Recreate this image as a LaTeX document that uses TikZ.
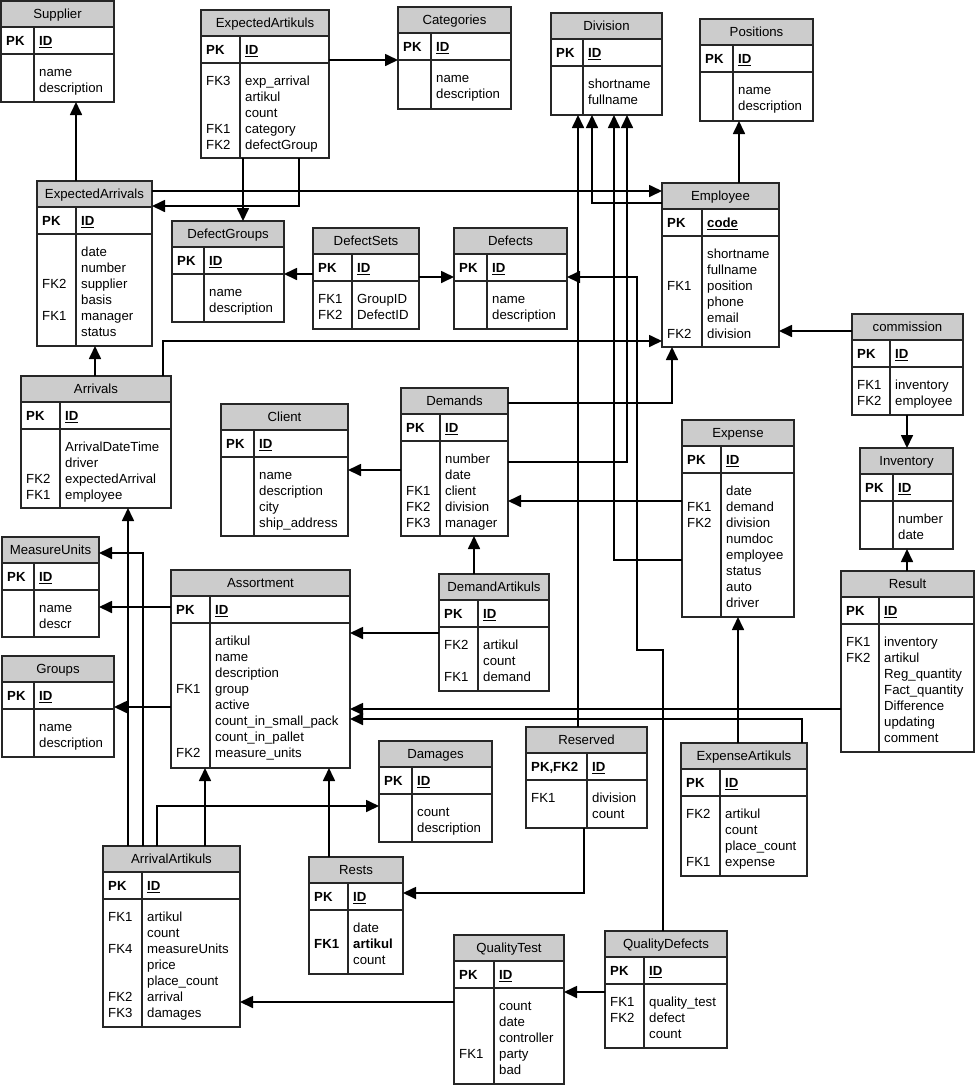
\documentclass[tikz,border=0pt]{standalone}
\usepackage{fontspec}
\setmainfont{Liberation Sans}
\usetikzlibrary{arrows.meta}

% #1 name, #2 left, #3 top, #4 width, #5 height, #6 key column, #7 title, #8 pk row, #9 rows
\newcommand{\entity}[9]{%
  \fill[hdrfill] (#2,#3) rectangle ++(#4,26);
  \node[tbl, minimum width=#4pt, minimum height=#5pt] (#1) at (#2,#3) {};
  \draw[tblline] (#2,#3+26) -- ++(#4,0) (#2,#3+53) -- ++(#4,0) (#2+#6,#3+26) -- (#2+#6,#3+#5);
  \node[anchor=base] (#1-title) at (#2+#4/2,#3+17) {#7};
  \node[cols] (#1-pk) at (#2+5,#3+33) {\begin{tabular}{@{}p{#6pt}@{}l@{}}#8\end{tabular}};
  \node[cols] (#1-rows) at (#2+5,#3+64) {\begin{tabular}{@{}p{#6pt}@{}l@{}}#9\end{tabular}};
}
\newcommand{\idkey}[1]{\textbf{\underline{#1}}}

\begin{document}
\begin{tikzpicture}[x=1pt, y=-1pt, font=\fontsize{13.2}{16}\selectfont,
    tbl/.style={draw=black!85, line width=1.1pt, inner sep=0pt, outer sep=0pt, anchor=north west},
    tblline/.style={draw=black!85, line width=1.1pt},
    hdrfill/.style={fill=black!20},
    cols/.style={anchor=north west, inner sep=0pt},
    fk/.style={line width=1.7pt, -{Triangle[length=13pt,width=12pt]}}]
  \useasboundingbox (0,0) rectangle (976,1085);

  \entity{supplier}{1}{1}{113}{101}{33}{Supplier}{\textbf{PK} & \idkey{ID}}{& name\\ & description}
  \entity{expart}{201}{10}{128}{148}{39}{ExpectedArtikuls}{\textbf{PK} & \idkey{ID}}{FK3 & exp\_arrival\\ & artikul\\ & count\\ FK1 & category\\ FK2 & defectGroup}
  \entity{categories}{398}{7}{113}{102}{33}{Categories}{\textbf{PK} & \idkey{ID}}{& name\\ & description}
  \entity{division}{551}{13}{111}{102}{32}{Division}{\textbf{PK} & \idkey{ID}}{& shortname\\ & fullname}
  \entity{positions}{700}{19}{113}{102}{33}{Positions}{\textbf{PK} & \idkey{ID}}{& name\\ & description}
  \entity{employee}{662}{183}{117}{164}{40}{Employee}{\textbf{PK} & \idkey{code}}{& shortname\\ & fullname\\ FK1 & position\\ & phone\\ & email\\ FK2 & division}
  \entity{exparr}{37}{181}{115}{165}{39}{ExpectedArrivals}{\textbf{PK} & \idkey{ID}}{& date\\ & number\\ FK2 & supplier\\ & basis\\ FK1 & manager\\ & status}
  \entity{defgroups}{172}{221}{112}{101}{32}{DefectGroups}{\textbf{PK} & \idkey{ID}}{& name\\ & description}
  \entity{defsets}{313}{228}{106}{101}{39}{DefectSets}{\textbf{PK} & \idkey{ID}}{FK1 & GroupID\\ FK2 & DefectID}
  \entity{defects}{454}{228}{113}{101}{33}{Defects}{\textbf{PK} & \idkey{ID}}{& name\\ & description}
  \entity{commission}{852}{314}{111}{101}{38}{commission}{\textbf{PK} & \idkey{ID}}{FK1 & inventory\\ FK2 & employee}
  \entity{inventory}{860}{448}{93}{101}{33}{Inventory}{\textbf{PK} & \idkey{ID}}{& number\\ & date}
  \entity{result}{841}{571}{133}{181}{38}{Result}{\textbf{PK} & \idkey{ID}}{FK1 & inventory\\ FK2 & artikul\\ & Reg\_quantity\\ & Fact\_quantity\\ & Difference\\ & updating\\ & comment}
  \entity{expense}{682}{420}{112}{197}{39}{Expense}{\textbf{PK} & \idkey{ID}}{& date\\ FK1 & demand\\ FK2 & division\\ & numdoc\\ & employee\\ & status\\ & auto\\ & driver}
  \entity{expenseart}{681}{743}{126}{133}{39}{ExpenseArtikuls}{\textbf{PK} & \idkey{ID}}{FK2 & artikul\\ & count\\ & place\_count\\ FK1 & expense}
  \entity{demands}{401}{388}{107}{148}{39}{Demands}{\textbf{PK} & \idkey{ID}}{& number\\ & date\\ FK1 & client\\ FK2 & division\\ FK3 & manager}
  \entity{client}{221}{404}{127}{132}{33}{Client}{\textbf{PK} & \idkey{ID}}{& name\\ & description\\ & city\\ & ship\_address}
  \entity{arrivals}{21}{376}{150}{132}{39}{Arrivals}{\textbf{PK} & \idkey{ID}}{& ArrivalDateTime\\ & driver\\ FK2 & expectedArrival\\ FK1 & employee}
  \entity{measure}{2}{537}{97}{100}{32}{MeasureUnits}{\textbf{PK} & \idkey{ID}}{& name\\ & descr}
  \entity{groups}{2}{656}{112}{101}{32}{Groups}{\textbf{PK} & \idkey{ID}}{& name\\ & description}
  \entity{assortment}{171}{570}{179}{198}{39}{Assortment}{\textbf{PK} & \idkey{ID}}{& artikul\\ & name\\ & description\\ FK1 & group\\ & active\\ & count\_in\_small\_pack\\ & count\_in\_pallet\\ FK2 & measure\_units}
  \entity{demandart}{439}{574}{110}{117}{39}{DemandArtikuls}{\textbf{PK} & \idkey{ID}}{FK2 & artikul\\ & count\\ FK1 & demand}
  \entity{damages}{379}{741}{113}{101}{33}{Damages}{\textbf{PK} & \idkey{ID}}{& count\\ & description}
  \entity{reserved}{526}{727}{121}{101}{61}{Reserved}{\textbf{PK,FK2} & \idkey{ID}}{FK1 & division\\ & count}
  \entity{arrivalart}{103}{846}{137}{181}{39}{ArrivalArtikuls}{\textbf{PK} & \idkey{ID}}{FK1 & artikul\\ & count\\ FK4 & measureUnits\\ & price\\ & place\_count\\ FK2 & arrival\\ FK3 & damages}
  \entity{rests}{309}{857}{94}{117}{39}{Rests}{\textbf{PK} & \idkey{ID}}{& date\\ \textbf{FK1} & \textbf{artikul}\\ & count}
  \entity{qualtest}{454}{935}{110}{149}{40}{QualityTest}{\textbf{PK} & \idkey{ID}}{& count\\ & date\\ & controller\\ FK1 & party\\ & bad}
  \entity{qualdef}{605}{931}{122}{117}{39}{QualityDefects}{\textbf{PK} & \idkey{ID}}{FK1 & quality\_test\\ FK2 & defect\\ & count}

  \draw[fk] ([xshift=39pt]exparr.north west) -- ([xshift=75pt]supplier.south west);
  \draw[fk] ([yshift=-50pt]expart.north east) -- ([yshift=-53pt]categories.north west);
  \draw[fk] ([xshift=42pt]expart.south west) -- ([xshift=71pt]defgroups.north west);
  \draw[fk] ([xshift=98pt]expart.south west) |- ([yshift=-25pt]exparr.north east);
  \draw[fk] ([yshift=-10pt]exparr.north east) -- ([yshift=-8pt]employee.north west);
  \draw[fk] ([yshift=-20pt]employee.north west) -| ([xshift=41pt]division.south west);
  \draw[fk] ([xshift=77pt]employee.north west) -- ([xshift=39pt]positions.south west);
  \draw[fk] ([yshift=-46pt]defsets.north west) -- ([yshift=-53pt]defgroups.north east);
  \draw[fk] ([yshift=-49pt]defsets.north east) -- ([yshift=-49pt]defects.north west);
  \draw[fk] ([yshift=-17pt]commission.north west) -- ([yshift=-148pt]employee.north east);
  \draw[fk] ([xshift=55pt]commission.south west) -- ([xshift=47pt]inventory.north west);
  \draw[fk] ([xshift=66pt]result.north west) -- ([xshift=47pt]inventory.south west);
  \draw[fk] ([xshift=74pt]arrivals.north west) -- ([xshift=58pt]exparr.south west);
  \draw[fk] ([xshift=142pt]arrivals.north west) |- ([yshift=-158pt]employee.north west);
  \draw[fk] ([yshift=-15pt]demands.north east) -| ([xshift=10pt]employee.south west);
  \draw[fk] ([yshift=-82pt]demands.north west) -- ([yshift=-66pt]client.north east);
  \draw[fk] ([yshift=-74pt]demands.north east) -| ([xshift=76pt]division.south west);
  \draw[fk] ([yshift=-81pt]expense.north west) -- ([yshift=-113pt]demands.north east);
  \draw[fk] ([yshift=-140pt]expense.north west) -| ([xshift=63pt]division.south west);
  \draw[fk] ([xshift=52pt]reserved.north west) -- ([xshift=27pt]division.south west);
  \draw[fk] ([xshift=58pt]qualdef.north west) |- ++(-26,-281) |- ([yshift=-49pt]defects.north east);
  \draw[fk] ([xshift=58pt]reserved.south west) |- ([yshift=-36pt]rests.north east);
  \draw[fk] ([xshift=35pt]demandart.north west) -- ([xshift=73pt]demands.south west);
  \draw[fk] ([yshift=-59pt]demandart.north west) -- ([yshift=-63pt]assortment.north east);
  \draw[fk] ([yshift=-37pt]assortment.north west) -- ([yshift=-70pt]measure.north east);
  \draw[fk] ([yshift=-137pt]assortment.north west) -- ([yshift=-51pt]groups.north east);
  \draw[fk] ([yshift=-138pt]result.north west) -- ([yshift=-139pt]assortment.north east);
  \draw[fk] ([xshift=121pt]expenseart.north west) |- ([yshift=-149pt]assortment.north east);
  \draw[fk] ([xshift=57pt]expenseart.north west) -- ([xshift=56pt]expense.south west);
  \draw[fk] ([xshift=25pt]arrivalart.north west) -- ([xshift=107pt]arrivals.south west);
  \draw[fk] ([xshift=40pt]arrivalart.north west) |- ([yshift=-16pt]measure.north east);
  \draw[fk] ([xshift=54pt]arrivalart.north west) |- ([yshift=-65pt]damages.north west);
  \draw[fk] ([xshift=102pt]arrivalart.north west) -- ([xshift=34pt]assortment.south west);
  \draw[fk] ([xshift=20pt]rests.north west) -- ([xshift=158pt]assortment.south west);
  \draw[fk] ([yshift=-67pt]qualtest.north west) -- ([yshift=-156pt]arrivalart.north east);
  \draw[fk] ([yshift=-61pt]qualdef.north west) -- ([yshift=-57pt]qualtest.north east);
\end{tikzpicture}
\end{document}
